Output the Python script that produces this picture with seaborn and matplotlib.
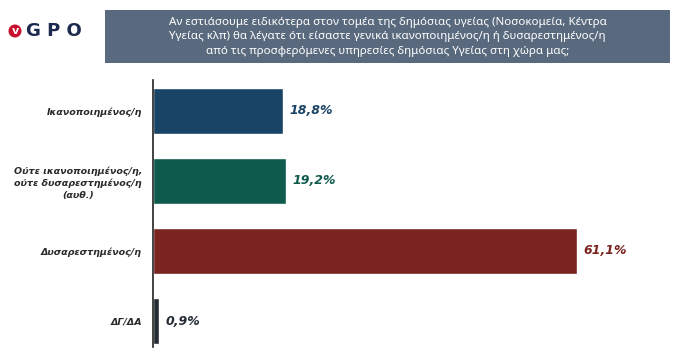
import numpy as np
import pandas as pd
import matplotlib
matplotlib.use('Agg')
import matplotlib.pyplot as plt
import matplotlib.transforms as mtrans
import seaborn as sns
from matplotlib.patches import Rectangle, Circle

# Data
categories = ['Ικανοποιημένος/η',
              'Ούτε ικανοποιημένος/η,\nούτε δυσαρεστημένος/η\n(αυθ.)',
              'Δυσαρεστημένος/η',
              'ΔΓ/ΔΑ']
values = [18.8, 19.2, 61.1, 0.9]
value_labels = ['18,8%', '19,2%', '61,1%', '0,9%']
bar_colors = ['#1a4466', '#0e5a4c', '#7a2420', '#262c36']

title = ('Αν εστιάσουμε ειδικότερα στον τομέα της δημόσιας υγείας (Νοσοκομεία, Κέντρα\n'
         'Υγείας κλπ) θα λέγατε ότι είσαστε γενικά ικανοποιημένος/η ή δυσαρεστημένος/η\n'
         'από τις προσφερόμενες υπηρεσίες δημόσιας Υγείας στη χώρα μας;')

df = pd.DataFrame({'cat': categories, 'val': values})

sns.set_theme(style='white')
plt.rcParams['font.family'] = ['DejaVu Sans']

W, H = 676, 362
fig = plt.figure(figsize=(W / 100, H / 100), dpi=100)
fig.patch.set_facecolor('white')

# axes placed in pixel terms
ax = fig.add_axes([153 / W, (H - 347) / H, (670 - 153) / W, (347 - 80) / H])
sns.barplot(data=df, y='cat', x='val', hue='cat', palette=bar_colors,
            legend=False, width=0.66, saturation=1, ax=ax)
ax.set_xlim(0, 74.5)
ax.set_ylim(3.37, -0.44)
ax.set_xlabel('')
ax.set_ylabel('')
ax.set_xticks([])
for s in ['top', 'right', 'bottom']:
    ax.spines[s].set_visible(False)
ax.spines['left'].set_color('#222222')
ax.spines['left'].set_linewidth(1.2)
ax.tick_params(axis='y', length=0, pad=8)
for lbl in ax.get_yticklabels():
    lbl.set_fontsize(6.8)
    lbl.set_fontweight('bold')
    lbl.set_fontstyle('italic')
    lbl.set_color('#2a2a2a')
    lbl.set_horizontalalignment('right')
    lbl.set_multialignment('center')
    lbl.set_linespacing(1.35)

for i, (v, t, c) in enumerate(zip(values, value_labels, bar_colors)):
    ax.text(v + 0.9, i, t, va='center', ha='left', fontsize=9,
            fontweight='bold', fontstyle='italic', color=c)

# title box
fig.patches.append(Rectangle((105 / W, (H - 63) / H), (670 - 105) / W, 53 / H,
                             transform=fig.transFigure, facecolor='#5a6a7e',
                             edgecolor='none'))
fig.text((105 + 670) / 2 / W, (H - 37) / H, title, ha='center', va='center',
         color='white', fontsize=8.3, linespacing=1.45,
         family=['Noto Sans', 'DejaVu Sans'])

# logo
fig.patches.append(Circle((15, H - 31), 6.5, transform=mtrans.IdentityTransform(),
                          facecolor='#c8102e', edgecolor='none'))
fig.text(15 / W, (H - 31.5) / H, 'v', ha='center', va='center', color='white',
         fontsize=8, fontweight='bold')
fig.text(26 / W, (H - 31) / H, 'G P O', ha='left', va='center', color='#1c2a4f',
         fontsize=13, fontweight='bold')

fig.savefig('out.png', dpi=100)
